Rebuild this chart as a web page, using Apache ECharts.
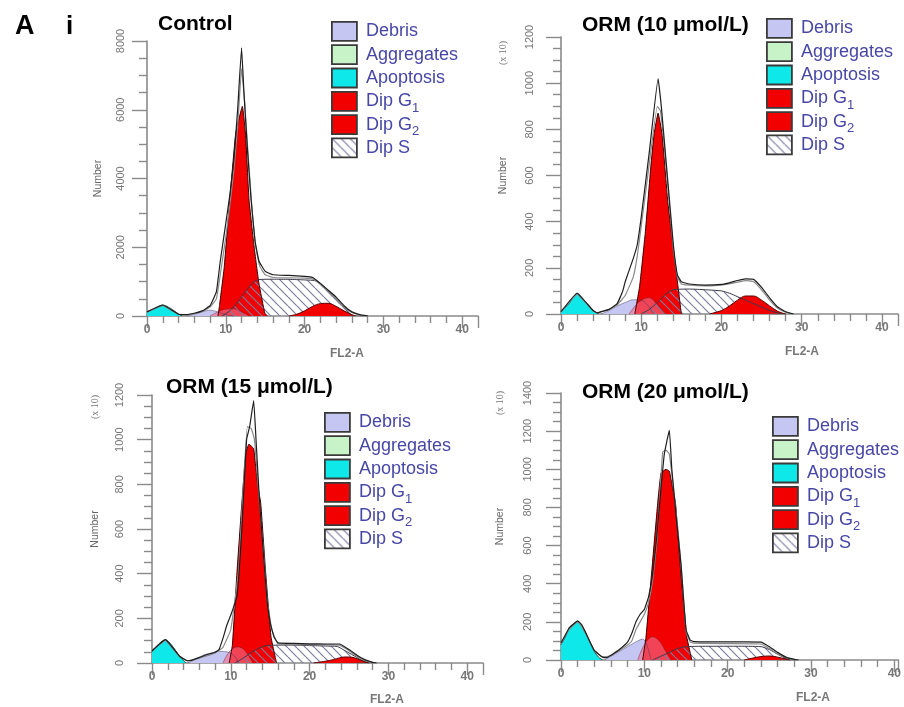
<!DOCTYPE html>
<html><head><meta charset="utf-8">
<script src="https://cdn.jsdelivr.net/npm/echarts@6/dist/echarts.min.js"></script>
<style>html,body{margin:0;padding:0;background:#fff}#c{width:904px;height:707px}</style>
</head><body><div id="c"></div>
<script>
// ---------- DATA ----------
const legendNames = ['Debris','Aggregates','Apoptosis','Dip G1','Dip G2','Dip S'];
const panelTitles = ['Control','ORM (10 \u03bcmol/L)','ORM (15 \u03bcmol/L)','ORM (20 \u03bcmol/L)'];
const yMaxima = [8000,1200,1200,1400];
const yIntervals = [2000,200,200,200];
const xMaxima = [42,42,42,40.5];

// Control
const ctrlApoptosis = [[0,120],[1,230],[2,320],[3,220],[4,60],[4.5,0]];
const ctrlAggregates = [[26,0],[28,0]];
const ctrlDebris = [[5,0],[6,50],[7,120],[8,170],[9,120],[10,40],[11,0]];
const ctrlOverlap = [[8,0],[9,120],[10,200],[11,210],[12,120],[13,0]];
const ctrlG1 = [[9,0],[9.2,300],[9.8,1430],[10.5,3370],[11.25,5300],[12.1,6100],[12.5,5300],[12.95,3370],[13.6,2000],[14.2,950],[14.95,80],[15.3,0]];
const ctrlS = [[9.5,0],[10.5,150],[11.5,400],[12.5,720],[13.5,980],[14.2,1060],[16,1070],[18,1065],[20,1050],[21.5,1020],[22.5,850],[23.5,620],[24.5,380],[25.5,130],[26,0]];
const ctrlG2 = [[18,0],[19,50],[20,150],[21,280],[22,360],[23,370],[24,280],[25,150],[26,40],[26.5,0]];
const ctrlHistA = [[0,120],[2,320],[4,50],[5,40],[6,80],[7,150],[8,300],[8.8,700],[9.3,1600],[10,2700],[10.5,3500],[11,4500],[11.5,6000],[12,7800],[12.3,6500],[12.7,5000],[13.2,3400],[13.7,2200],[14.2,1600],[15,1300],[16,1200],[18,1180],[20,1150],[21,1120],[22,950],[23,750],[24,550],[25,300],[26,120],[27,40],[28,0]];
const ctrlHistB = [[0,110],[2,300],[4,45],[5,40],[6,70],[7,130],[8,260],[8.8,500],[9.3,1200],[10,2300],[10.5,3200],[11,4200],[11.5,5500],[12,7200],[12.4,6200],[12.8,4800],[13.3,3200],[13.8,2000],[14.3,1450],[15,1200],[16,1120],[18,1110],[20,1100],[21,1080],[22,920],[23,720],[24,500],[25,260],[26,100],[27,30],[28,0]];

// ORM 10 umol/L (x10)
const o10Apoptosis = [[0,10],[1,45],[2,90],[3,55],[4,15],[4.7,0]];
const o10Aggregates = [[26,0],[28,0]];
const o10Debris = [[5,0],[6,15],[7,35],[8,50],[9,62],[10,60],[11,30],[11.5,0]];
const o10Overlap = [[8.5,0],[9.5,45],[10.5,68],[11,70],[11.5,60],[12.5,20],[13,0]];
const o10G1 = [[9.2,0],[9.8,120],[10.5,350],[11.2,640],[11.6,780],[12.1,870],[12.6,780],[13.3,490],[14.3,200],[15,0]];
const o10S = [[10,0],[11,20],[12,50],[13,85],[14,105],[16,108],[18,105],[20,100],[21,90],[22,75],[23,60],[24,45],[25,30],[26,15],[27,5],[27.5,0]];
const o10G2 = [[18.5,0],[20,15],[21,35],[22,60],[23,78],[24,78],[25,60],[26,35],[27,12],[28,0]];
const o10HistA = [[0,10],[2,90],[4,15],[4.5,5],[5,10],[6,20],[7,45],[7.7,100],[8,140],[9,240],[9.5,300],[10,420],[11,700],[12.1,1020],[12.5,900],[13,700],[13.5,500],[14,300],[14.5,170],[15,140],[16,130],[18,125],[20,128],[21,135],[22,145],[23,152],[24,150],[25,115],[26,70],[27,30],[28,10],[29,0]];
const o10HistB = [[0,8],[2,85],[4,14],[4.5,5],[6,20],[7,40],[8,80],[9,160],[9.5,250],[10,380],[11,650],[12,900],[12.4,880],[13,680],[13.5,480],[14,280],[14.5,160],[15,130],[16,125],[18,122],[20,125],[22,138],[23,145],[24,140],[25,105],[26,60],[27,25],[28,8],[29,0]];

// ORM 15 umol/L (x10)
const o15Apoptosis = [[0,50],[1,90],[1.7,105],[2.5,80],[3.5,30],[4.3,0]];
const o15Aggregates = [[26,0],[28,0]];
const o15Debris = [[4.5,0],[5.5,15],[6.5,35],[7.5,45],[8.5,52],[9.5,50],[10.5,30],[11,0]];
const o15Overlap = [[9,0],[9.8,50],[10.8,72],[11.5,65],[12.2,35],[12.8,0]];
const o15G1 = [[9.8,0],[10.2,80],[10.8,415],[11.4,714],[11.9,940],[12.3,980],[12.9,960],[13.4,800],[13.8,714],[14.4,415],[15.1,117],[15.8,0]];
const o15S = [[10.5,0],[11.5,20],[12.5,45],[13.5,65],[14.5,78],[16,80],[18,80],[20,78],[22,76],[23.5,74],[24.5,55],[25.5,35],[26.5,15],[27.5,0]];
const o15G2 = [[20.5,0],[22,8],[23,15],[24.5,27],[25.5,25],[26.5,12],[27.5,0]];
const o15HistA = [[0,55],[1.7,105],[3.5,30],[4.5,10],[5,12],[6,25],[7,38],[8,48],[8.5,60],[9,110],[9.5,170],[10,215],[10.8,300],[11.4,600],[12,1000],[12.4,1060],[12.9,1175],[13.2,1000],[13.6,750],[14,550],[14.6,280],[15,180],[15.5,115],[16,90],[18,88],[20,86],[22,85],[23.8,85],[25,60],[26,35],[27,15],[28,3],[28.5,0]];
const o15HistB = [[0,55],[1.7,100],[3.5,28],[4.5,10],[6,22],[8,45],[9,70],[10,150],[11,420],[11.6,800],[12.1,1058],[12.6,1050],[13,1000],[13.5,780],[14,560],[14.6,290],[15.2,150],[16,85],[20,82],[23.8,80],[25,55],[26,30],[27,12],[28,2],[28.5,0]];

// ORM 20 umol/L (x10)
const o20Apoptosis = [[0,80],[0.5,120],[1,165],[2,200],[2.5,180],[3,140],[3.5,90],[4,45],[4.5,15],[5,0]];
const o20Aggregates = [[26,0],[28,0]];
const o20Debris = [[5.2,0],[6,20],[7,45],[8,70],[9,95],[9.8,110],[10.3,80],[10.8,0]];
const o20Overlap = [[9.2,0],[10,80],[11,122],[11.8,100],[12.5,50],[13.2,0]];
const o20G1 = [[9.8,0],[10.2,120],[10.9,470],[11.6,820],[12,980],[12.6,1000],[13,990],[13.4,900],[13.75,820],[14.35,470],[15.1,120],[15.7,0]];
const o20S = [[11,0],[12,20],[13,40],[14,60],[15,70],[18,72],[21,72],[24,70],[25,55],[26,30],[27,8],[27.5,0]];
const o20G2 = [[22,0],[23,10],[24,18],[25,21],[26,15],[27,5],[27.5,0]];
const o20HistA = [[0,90],[0.5,130],[1,170],[2,205],[2.5,185],[3,140],[4,50],[5,15],[5.5,12],[6,25],[7,55],[8,95],[8.5,140],[9,200],[9.5,240],[10,265],[10.5,330],[11,450],[11.5,650],[12,900],[12.4,1080],[13,1205],[13.3,1000],[13.8,760],[14.4,500],[15,160],[15.5,105],[16,96],[18,95],[20,95],[22,95],[24,94],[25,70],[26,40],[27,15],[28,3],[28.5,0]];
const o20HistB = [[0,85],[1,160],[2,200],[3,135],[4,48],[5,15],[6,22],[7,50],[8,80],[8.5,100],[9,160],[10,240],[10.5,300],[11,420],[11.5,620],[12.2,1090],[12.6,1100],[13,1080],[13.5,900],[14,700],[14.5,450],[15,150],[15.5,95],[16,88],[20,86],[24,84],[25,60],[26,32],[27,12],[28,2],[28.5,0]];

const panelData = [
  {apo:ctrlApoptosis, agg:ctrlAggregates, deb:ctrlDebris, ovl:ctrlOverlap, g1:ctrlG1, s:ctrlS, g2:ctrlG2, hA:ctrlHistA, hB:ctrlHistB},
  {apo:o10Apoptosis, agg:o10Aggregates, deb:o10Debris, ovl:o10Overlap, g1:o10G1, s:o10S, g2:o10G2, hA:o10HistA, hB:o10HistB},
  {apo:o15Apoptosis, agg:o15Aggregates, deb:o15Debris, ovl:o15Overlap, g1:o15G1, s:o15S, g2:o15G2, hA:o15HistA, hB:o15HistB},
  {apo:o20Apoptosis, agg:o20Aggregates, deb:o20Debris, ovl:o20Overlap, g1:o20G1, s:o20S, g2:o20G2, hA:o20HistA, hB:o20HistB}
];

// ---------- LAYOUT / STYLE ----------
const layout = [
  {left:147, top:41, width:331, height:275, lblMargin:21, nameGap:43, legendLeft:331, legendTop:21},
  {left:561, top:37, width:337, height:277, lblMargin:26, nameGap:52, legendLeft:766, legendTop:18},
  {left:152, top:395, width:331, height:268, lblMargin:27, nameGap:51, legendLeft:324, legendTop:412},
  {left:561, top:393, width:341, height:267, lblMargin:28, nameGap:55, legendLeft:772, legendTop:416}
];
const titlePos = [[158,24],[582,25],[166,387],[582,392]];
const fl2Pos = [[347,354],[802,352],[387,700],[813,698]];
const x10Pos = [null,[503,53],[95,407],[500,403]];

function hatchCanvas(bg){
  const n=9, c=document.createElement('canvas'); c.width=n; c.height=n;
  const g=c.getContext('2d');
  if(bg){g.fillStyle=bg; g.fillRect(0,0,n,n);}
  g.strokeStyle='#7c7ca0'; g.lineWidth=1.2; g.beginPath();
  for(const k of [-n,0,n]){g.moveTo(k,0); g.lineTo(k+n,n);}
  g.stroke(); return c;
}
const hatchFill = {image: hatchCanvas(null), repeat:'repeat'};
const hatchLegend = {image: hatchCanvas('#ffffff'), repeat:'repeat'};

const colors = {Debris:'#c6c6f2', Aggregates:'#c8f2c8', Apoptosis:'#0ee8e8', 'Dip G1':'#f20000', 'Dip G2':'#f20000'};
const labelColor = '#4747a6';
const axisGray = '#8a8a8a';

const chart = echarts.init(document.getElementById('c'));
const grid=[], xAxis=[], yAxis=[], series=[], legend=[], graphic=[];

function area(name, data, i, fill, stroke, lw, smooth, z){
  return {type:'line', name, data, xAxisIndex:i, yAxisIndex:i, symbol:'none', smooth:smooth, silent:true,
    lineStyle:{color:stroke, width:lw}, areaStyle: fill ? {color:fill, opacity:1} : undefined,
    itemStyle:{color: typeof fill==='string'? fill : stroke}, emphasis:{disabled:true}, z:z||2};
}

function legendLabel(n){
  const m = n.match(/^Dip G(\d)$/);
  return m ? 'Dip G{s|' + m[1] + '}' : n + '{s|\u200b}';
}

layout.forEach((L,i)=>{
  const D = panelData[i];
  grid.push({left:L.left, top:L.top, width:L.width, height:L.height, containLabel:false});
  xAxis.push({type:'value', gridIndex:i, min:0, max:xMaxima[i], interval:10,
    axisLine:{onZero:false, lineStyle:{color:axisGray, width:1.6}},
    axisTick:{length:12, lineStyle:{color:axisGray, width:1.4}},
    minorTick:{show:true, splitNumber:5, length:7, lineStyle:{color:axisGray, width:1.4}},
    splitLine:{show:false},
    axisLabel:{formatter:v=> (v%10===0 ? String(v) : ''), color:'#777', fontSize:12, margin:8, fontWeight:'bold', fontFamily:'Liberation Sans Narrow, Liberation Sans'}
  });
  yAxis.push({type:'value', gridIndex:i, min:0, max:yMaxima[i], interval:yIntervals[i],
    name:'Number', nameLocation:'middle', nameRotate:90, nameGap:L.nameGap,
    nameTextStyle:{color:'#666', fontSize:10.5, fontFamily:'Liberation Sans Narrow, Liberation Sans'},
    axisLine:{show:true, onZero:false, lineStyle:{color:axisGray, width:1.6}},
    axisTick:{show:true, length:15, lineStyle:{color:axisGray, width:1.4}},
    minorTick:{show:true, splitNumber:4, length:8, lineStyle:{color:axisGray, width:1.4}},
    splitLine:{show:false},
    axisLabel:{rotate:90, margin:L.lblMargin, formatter:v=>String(v), color:'#777', fontSize:11, fontFamily:'Liberation Sans Narrow, Liberation Sans'}
  });
  series.push(area('Aggregates', D.agg, i, colors.Aggregates, '#555', 0.8, 0.2));
  series.push(area('Debris', D.deb, i, colors.Debris, 'rgba(60,60,90,0.6)', 0.8, 0.3));
  series.push(area('Dip G1', D.g1, i, colors['Dip G1'], '#3a0000', 1, 0.1));
  series.push(area('overlap', D.ovl, i, 'rgba(242,110,140,0.62)', 'rgba(110,30,50,0.55)', 0.8, 0.35));
  series.push(area('Dip S', D.s, i, hatchFill, '#3a3a4a', 1, 0.2));
  series.push(area('Dip G2', D.g2, i, colors['Dip G2'], '#5a0000', 1, 0.35));
  series.push(area('Apoptosis', D.apo, i, colors.Apoptosis, '#2a4848', 1, 0.25));
  series.push(area('histB', D.hB, i, null, '#8a8a8a', 1.2, 0.1, 3));
  series.push(area('histA', D.hA, i, null, '#1e1e1e', 1.2, 0.1, 3));

  legend.push({orient:'vertical', left:L.legendLeft, top:L.legendTop, selectedMode:false, padding:0,
    itemWidth:25, itemHeight:19, itemGap:-0.6, icon:'rect',
    itemStyle:{borderColor:'#3a3a3a', borderWidth:1.8},
    formatter:legendLabel,
    textStyle:{color:labelColor, fontSize:18, lineHeight:19, fontFamily:'Liberation Sans', padding:[0,0,0,4],
      rich:{s:{color:labelColor, fontSize:13, lineHeight:19, verticalAlign:'bottom', padding:[0,0,-4,0], fontFamily:'Liberation Sans'}}},
    data: legendNames.map(n=>({name:n, itemStyle:{color: n==='Dip S' ? hatchLegend : colors[n]}}))
  });

  graphic.push({type:'text', x:titlePos[i][0], y:titlePos[i][1], style:{text:panelTitles[i], font:'bold 21px "Liberation Sans"', fill:'#000', align:'left', verticalAlign:'middle'}});
  graphic.push({type:'text', x:fl2Pos[i][0], y:fl2Pos[i][1], style:{text:'FL2-A', font:'bold 12px "Liberation Sans"', fill:'#777', align:'center', verticalAlign:'middle'}});
  if (x10Pos[i]) graphic.push({type:'text', x:x10Pos[i][0], y:x10Pos[i][1], rotation:Math.PI/2, style:{text:'(x 10)', font:'10px "Liberation Sans Narrow"', fill:'#777', align:'center', verticalAlign:'middle'}});
});
graphic.push({type:'text', x:15, y:27, style:{text:'A', font:'bold 27px "Liberation Sans"', fill:'#000', align:'left', verticalAlign:'middle'}});
graphic.push({type:'text', x:66, y:27, style:{text:'i', font:'bold 26px "Liberation Sans"', fill:'#000', align:'left', verticalAlign:'middle'}});

chart.setOption({animation:false, backgroundColor:'#fff', grid, xAxis, yAxis, series, legend, graphic});
</script></body></html>
